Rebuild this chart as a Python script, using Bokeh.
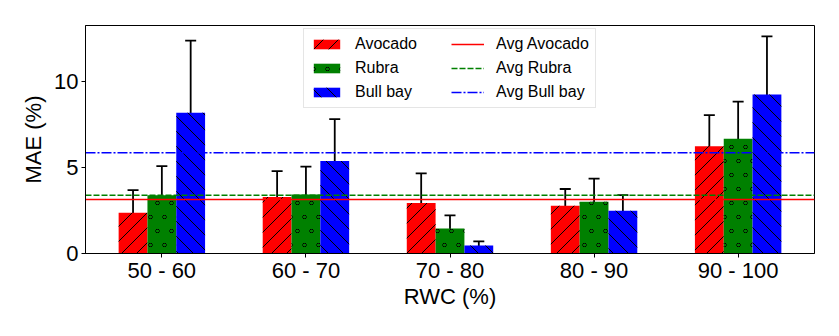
import base64
import struct
import zlib
import numpy as np
import pandas as pd
from bokeh.plotting import figure
from bokeh.core.properties import value
from bokeh.models import (ColumnDataSource, Whisker, TeeHead, FixedTicker, Range1d,
                          Legend, LegendItem, ImageURLTexture)
from bokeh.transform import dodge
from bokeh.embed import file_html
from bokeh.resources import INLINE

categories = ["50 - 60", "60 - 70", "70 - 80", "80 - 90", "90 - 100"]
avocado = [2.37, 3.30, 2.95, 2.78, 6.26]
avocado_err = [1.32, 1.50, 1.72, 0.98, 1.81]
rubra = [3.40, 3.44, 1.46, 3.01, 6.69]
rubra_err = [1.70, 1.63, 0.76, 1.35, 2.17]
bullbay = [8.20, 5.40, 0.47, 2.49, 9.27]
bullbay_err = [4.21, 2.44, 0.24, 0.91, 3.39]
avg_names = ["Avg Avocado", "Avg Rubra", "Avg Bull bay"]
avg_values = [3.15, 3.40, 5.87]

FONT = "Liberation Sans"

df = pd.DataFrame({
    "x": np.arange(len(categories)),
    "avocado": avocado, "rubra": rubra, "bullbay": bullbay,
})
for name, vals, err in [("avocado", avocado, avocado_err),
                        ("rubra", rubra, rubra_err),
                        ("bullbay", bullbay, bullbay_err)]:
    df[name + "_lo"] = np.array(vals) - np.array(err)
    df[name + "_hi"] = np.array(vals) + np.array(err)
src = ColumnDataSource(df)


# ---- hatch tiles as small PNG data URIs (matplotlib-like "/", "o", "\") ----
def png_uri(alpha):
    h, w = alpha.shape
    rgba = np.zeros((h, w, 4), dtype=np.uint8)
    rgba[..., 3] = (np.clip(alpha, 0, 1) * 255).astype(np.uint8)
    raw = b"".join(b"\x00" + rgba[r].tobytes() for r in range(h))

    def chunk(tag, data):
        c = struct.pack(">I", len(data)) + tag + data
        return c + struct.pack(">I", zlib.crc32(tag + data) & 0xffffffff)

    png = (b"\x89PNG\r\n\x1a\n" + chunk(b"IHDR", struct.pack(">IIBBBBB", w, h, 8, 6, 0, 0, 0))
           + chunk(b"IDAT", zlib.compress(raw)) + chunk(b"IEND", b""))
    return "data:image/png;base64," + base64.b64encode(png).decode()


T = 15
yy, xx = np.mgrid[0:T, 0:T].astype(float)
d = np.mod(xx + yy + 1.0, T)
fwd_alpha = 1.0 - np.minimum(d, T - d) / np.sqrt(2) * 1.4
d = np.mod(xx - yy, T)
back_alpha = 1.0 - np.minimum(d, T - d) / np.sqrt(2) * 1.4

R = 14
yy, xx = np.mgrid[0:2 * R, 0:R] + 0.5
ring_alpha = np.zeros_like(xx)
for cx, cy in [(R / 4, R / 2), (3 * R / 4, 3 * R / 2)]:
    for ox in (-R, 0, R):
        for oy in (-2 * R, 0, 2 * R):
            dist = np.hypot(xx - cx - ox, yy - cy - oy)
            ring_alpha = np.maximum(ring_alpha, 1.0 - np.abs(dist - 1.8) * 1.4)

textures = {"fwd": ImageURLTexture(url=png_uri(fwd_alpha)),
            "ring": ImageURLTexture(url=png_uri(ring_alpha)),
            "back": ImageURLTexture(url=png_uri(back_alpha))}

top = max((df["avocado_hi"].max(), df["rubra_hi"].max(), df["bullbay_hi"].max())) * 1.05
xr = Range1d(-0.53, len(categories) - 1 + 0.53)

p = figure(width=835, height=332, output_backend="svg", toolbar_location=None,
           x_range=xr, y_range=Range1d(0, top),
           min_border_left=85, min_border_right=21, min_border_top=25, min_border_bottom=79)
p.frame_width = 729
p.frame_height = 228

bw = 0.2
series = [("avocado", "Avocado", "red", "fwd", -bw),
          ("rubra", "Rubra", "green", "ring", 0.0),
          ("bullbay", "Bull bay", "blue", "back", bw)]

bar_items = []
for key, label, color, hatch, off in series:
    r = p.vbar(x=dodge("x", off), top=key, width=bw, source=src,
               fill_color=color, line_color=None,
               hatch_pattern=value(hatch), hatch_extra={hatch: textures[hatch]},
               hatch_color="black")
    bar_items.append(LegendItem(label=label, renderers=[r]))

for key, label, color, hatch, off in series:
    w = Whisker(base=dodge("x", off), lower=key + "_lo", upper=key + "_hi", source=src,
                line_color="black", line_width=1.8,
                upper_head=TeeHead(size=11, line_color="black", line_width=1.8),
                lower_head=TeeHead(size=11, line_color="black", line_width=1.8))
    p.add_layout(w)

line_styles = [("red", "solid"), ("green", "6 2"), ("blue", "10 2 2 2")]
line_items = []
for name, val, (color, dash) in zip(avg_names, avg_values, line_styles):
    r = p.line(x=[xr.start, xr.end], y=[val, val], line_color=color,
               line_width=1.6, line_dash=dash)
    line_items.append(LegendItem(label=name, renderers=[r]))

legend = Legend(items=bar_items + line_items, ncols=2, location=(218, 145),
                label_text_font=FONT, label_text_font_size="16px",
                label_text_color="black",
                glyph_width=33, glyph_height=12, label_height=18, label_width=90,
                label_standoff=12, spacing=6, padding=6, margin=0,
                border_line_color="#cccccc", border_line_width=1,
                background_fill_alpha=0.8)
p.add_layout(legend)

p.xaxis.ticker = FixedTicker(ticks=list(range(len(categories))))
p.xaxis.major_label_overrides = {i: c for i, c in enumerate(categories)}
p.yaxis.ticker = FixedTicker(ticks=[0, 5, 10])
p.xaxis.axis_label = "RWC (%)"
p.yaxis.axis_label = "MAE (%)"
for ax in (p.xaxis, p.yaxis):
    ax.axis_label_text_font = FONT
    ax.axis_label_text_font_size = "22px"
    ax.axis_label_text_font_style = "normal"
    ax.axis_label_text_color = "black"
    ax.major_label_text_font = FONT
    ax.major_label_text_font_size = "22px"
    ax.major_label_text_color = "black"
    ax.major_tick_out = 4
    ax.major_tick_in = 0
    ax.minor_tick_out = 0
    ax.minor_tick_in = 0
    ax.axis_line_color = "black"
    ax.major_tick_line_color = "black"
p.xaxis.major_label_standoff = 0
p.yaxis.major_label_standoff = 3
p.xaxis.axis_label_standoff = -2
p.yaxis.axis_label_standoff = 5
p.xgrid.visible = False
p.ygrid.visible = False
p.outline_line_color = "black"
p.outline_line_alpha = 1
p.background_fill_color = "white"

open("out.html", "w").write(file_html(p, INLINE))
